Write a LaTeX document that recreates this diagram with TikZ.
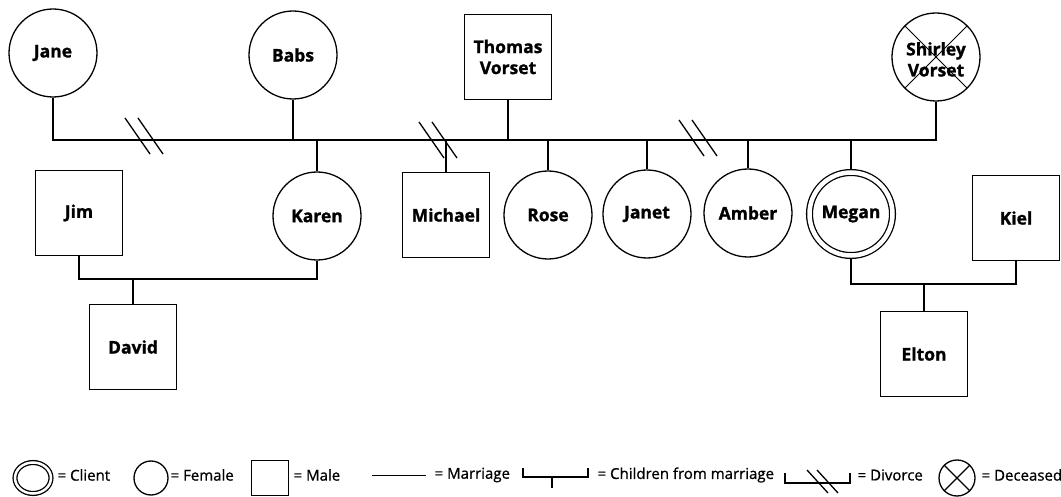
\documentclass[tikz,border=0pt]{standalone}
\usepackage{fontspec}
\setmainfont{Open Sans}[BoldFeatures={FakeBold=1.2}]
\newfontfamily\legfont{Open Sans}[UprightFeatures={FakeBold=0.9}]
\usetikzlibrary{calc,shapes.geometric}
\begin{document}
\begin{tikzpicture}[x=1pt,y=-1pt,line width=1.3pt,
  namefont/.style={font=\bfseries\fontsize{17.5}{22}\selectfont},
  fem/.style={draw,circle,minimum size=88pt,inner sep=0pt,align=center,namefont},
  male/.style={draw,rectangle,minimum width=87pt,minimum height=85pt,inner sep=0pt,align=center,namefont},
  client/.style={fem,double,double distance=4.5pt,minimum size=83pt,outer sep=3.5pt},
  deceased/.style={fem,path picture={\draw[line width=0.9pt]
      (path picture bounding box.north west) -- (path picture bounding box.south east)
      (path picture bounding box.north east) -- (path picture bounding box.south west);}},
  legtext/.style={anchor=west,inner sep=0pt,font=\legfont\fontsize{15}{18}\selectfont},
  divorce/.pic={\draw (-19,-18) -- (6,18) (-6,-18) -- (19,18);}
]
\useasboundingbox (0,0) rectangle (1061,497);

% generation 1
\node[fem] (jane) at (53,53) {Jane};
\node[fem] (babs) at (293,55) {Babs};
\node[male] (thomas) at (508,57) {Thomas\\[-1pt]Vorset};
\node[deceased] (shirley) at (936,57) {\rule{0pt}{18pt}Shirley\\[-1pt]Vorset};

% generation 2
\node[male] (jim) at (79,213) {Jim};
\node[fem] (karen) at (317,216) {Karen};
\node[male] (michael) at (446,215) {Michael};
\node[fem] (rose) at (548,215) {Rose};
\node[fem] (janet) at (647,214) {Janet};
\node[fem] (amber) at (748,213) {Amber};
\node[client] (megan) at (851,214) {Megan};
\node[male] (kiel) at (1016,218) {Kiel};

% generation 3
\node[male] (david) at (133,347) {David};
\node[male] (elton) at (924,354) {Elton};

% main marriage line
\coordinate (ml) at (0,140);
\draw (jane.south) |- (shirley.south |- ml) -- (shirley.south);
\draw (babs.south) -- (babs.south |- ml);
\draw (thomas.south) -- (thomas.south |- ml);
\foreach \c in {karen,michael,rose,janet,amber,megan}
  \draw (\c.north) -- (\c.north |- ml);
\pic at (144,136) {divorce};
\pic at (438,140) {divorce};
\pic at (698,138) {divorce};

% Jim & Karen
\coordinate (m1) at (0,279);
\draw (jim.south) |- (karen.south |- m1) -- (karen.south);
\draw (david.north) -- (david.north |- m1);

% Megan & Kiel
\coordinate (m2) at (0,284);
\draw (megan.south) |- (kiel.south |- m2) -- (kiel.south);
\draw (elton.north) -- (elton.north |- m2);

% legend
\node[draw,ellipse,double,double distance=2.5pt,minimum width=36pt,minimum height=31pt,inner sep=0pt] (lc) at (33,478) {};
\node[legtext] (lct) at (57,475) {= Client};
\node[draw,circle,minimum size=34pt,inner sep=0pt] (lf) at (151,478) {};
\node[legtext] (lft) at (170,475) {= Female};
\node[draw,rectangle,minimum width=37pt,minimum height=35pt,inner sep=0pt] (lmale) at (270,478) {};
\node[legtext] (lmt) at (293,475) {= Male};
\coordinate (lm1) at (372,475);
\coordinate (lm2) at (426,475);
\draw[line width=1pt] (lm1) -- (lm2);
\node[legtext] (lmat) at (434,475) {= Marriage};
\coordinate (lb1) at (523,468);
\coordinate (lb2) at (588,468);
\coordinate (lbm) at (552,477);
\draw (lb1) |- (lb2 |- lbm) -- (lb2);
\draw (lbm) -- ++(0,11);
\node[legtext] (lbt) at (597,475) {= Children from marriage};
\coordinate (ld1) at (785,473);
\coordinate (ld2) at (850,473);
\coordinate (ldh) at (0,483);
\draw (ld1) |- (ld2 |- ldh) -- (ld2);
\coordinate (lds) at (822,481);
\draw (lds) ++(-15,-11) -- ++(21,23);
\draw (lds) ++(-5,-11) -- ++(21,23);
\node[legtext] (ldt) at (857,475) {= Divorce};
\node[draw,circle,minimum size=36pt,inner sep=0pt,path picture={\draw[line width=1.1pt]
      (path picture bounding box.north west) -- (path picture bounding box.south east)
      (path picture bounding box.north east) -- (path picture bounding box.south west);}] (ldc) at (957,478) {};
\node[legtext] (ldct) at (981,475) {= Deceased};
\end{tikzpicture}
\end{document}
